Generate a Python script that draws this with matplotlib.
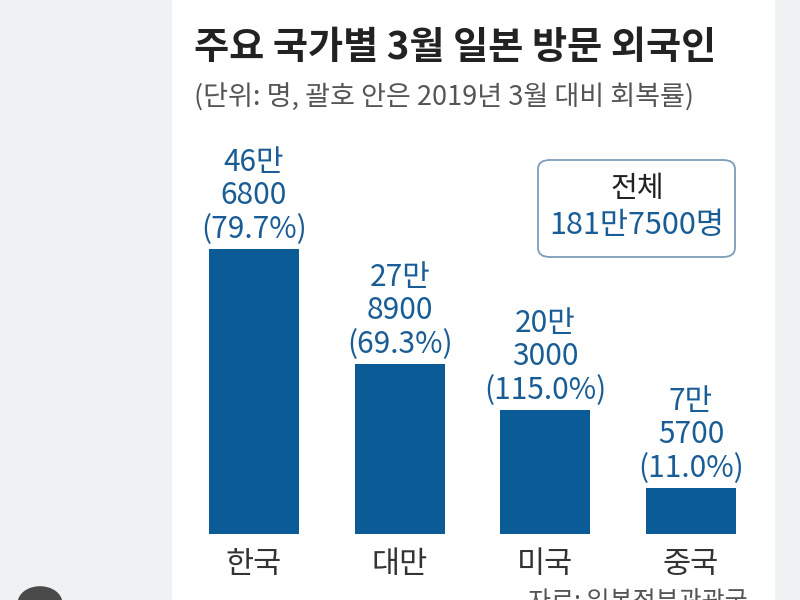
import matplotlib.pyplot as plt
from matplotlib.patches import FancyBboxPatch, Rectangle, Circle

plt.rcParams['font.family'] = ['Noto Sans CJK KR', 'DejaVu Sans']

# data
countries = ["한국", "대만", "미국", "중국"]
visitors = [466800, 278900, 203000, 75700]
recovery = [79.7, 69.3, 115.0, 11.0]
total_label = "181만7500명"

title = "주요 국가별 3월 일본 방문 외국인"
subtitle = "(단위: 명, 괄호 안은 2019년 3월 대비 회복률)"
source = "자료: 일본정부관광국"

BAR = "#0b5b97"
BLUE_TXT = "#1a5d96"
W, H = 800, 600


def fx(px):
    return px / W


def fy(py):
    return 1 - py / H


fig = plt.figure(figsize=(8, 6), dpi=100)
fig.patch.set_facecolor("#f0f1f3")

# white card in the middle
fig.patches.append(Rectangle((fx(172), 0), fx(775 - 172), 1,
                             transform=fig.transFigure, facecolor="white",
                             edgecolor="none", zorder=-2))
# phone overlay icon bottom-left
fig.patches.append(Circle((fx(40), fy(603)), 0.028, transform=fig.transFigure,
                          facecolor="#4a4a4a", edgecolor="none", zorder=-1))

fig.text(fx(194), fy(47), title, fontsize=27.5, fontweight="bold",
         color="#222222", va="center", ha="left")
fig.text(fx(194), fy(98), subtitle, fontsize=19.5, color="#555555",
         va="center", ha="left")

# axes: bar bottom at 534px, tallest top at 249px
ax_top, ax_bot = 133, 534
ax = fig.add_axes([fx(172), fy(ax_bot), fx(775 - 172), (ax_bot - ax_top) / H])
ax.set_facecolor("none")
ymax = visitors[0] * (ax_bot - ax_top) / (ax_bot - 249)
ax.set_ylim(0, ymax)
step = 145.67
ax.set_xlim(-(254 - 172) / step, 3 + (775 - 691) / step)

x = list(range(len(countries)))
ax.bar(x, visitors, width=90 / step, color=BAR, zorder=2)

for xi, v, r in zip(x, visitors, recovery):
    man, rest = divmod(v, 10000)
    txt = f"{man}만\n{rest}\n({r:.1f}%)"
    ax.annotate(txt, (xi, v), xytext=(0, 3), textcoords="offset points",
                ha="center", va="bottom", fontsize=21.5, color=BLUE_TXT,
                linespacing=1.1)

ax.set_xticks(x)
ax.set_xticklabels(countries, fontsize=22, color="#333333")
ax.tick_params(axis="x", length=0, pad=11)
ax.set_yticks([])
for s in ax.spines.values():
    s.set_visible(False)

# total box
fig.patches.append(FancyBboxPatch((fx(538), fy(257)), fx(735 - 538), (257 - 160) / H,
                                  boxstyle="round,pad=0,rounding_size=0.015",
                                  transform=fig.transFigure, facecolor="white",
                                  edgecolor="#7f9cb8", linewidth=1.3, zorder=3))
fig.text(fx(637), fy(189), "전체", fontsize=21, color="#222222",
         ha="center", va="center", zorder=4)
fig.text(fx(637), fy(225), total_label, fontsize=22, color=BLUE_TXT,
         ha="center", va="center", zorder=4)

fig.text(fx(748), fy(589), source, fontsize=18, color="#555555",
         ha="right", va="top")

fig.savefig("out.png", dpi=100)
